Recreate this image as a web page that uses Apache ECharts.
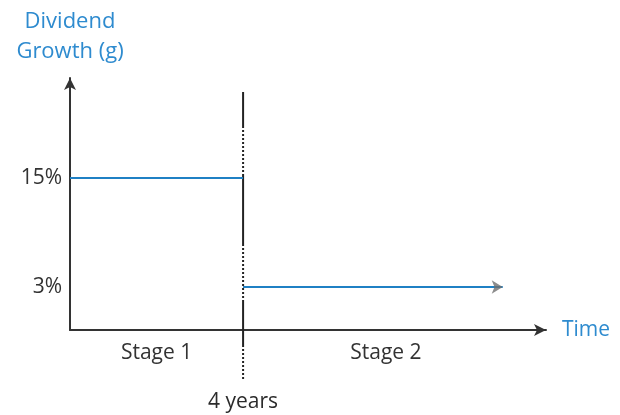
<!DOCTYPE html>
<html>
<head>
<meta charset="utf-8">
<script src="https://cdn.jsdelivr.net/npm/echarts@6/dist/echarts.min.js"></script>
<style>html,body{margin:0;padding:0;background:#fff}#c{width:620px;height:415px}</style>
</head>
<body>
<div id="c"></div>
<script>
// ---- data ----
const stageNames = ['Stage 1', 'Stage 2'];
const stageLabelAt = [2, 7.3];          // x (years) where each stage name sits
const stageStart = [0, 4];              // years
const stageEnd = [4, 10];               // years
const growthRates = [15, 3];            // %
const yTickValues = [3, 15];
const boundaryYears = 4;
const boundaryLabel = '4 years';
const yName = 'Dividend\nGrowth (g)';
const xName = 'Time';

// ---- style ----
const FONT = 'Open Sans';
const BLUE_TEXT = '#2e8bcf';
const BLUE_LINE = '#1f80c4';
const DARK = '#333';

// dash pattern for the boundary line (solid / dotted stretches, px from top)
function buildDash(segs) {
  const arr = []; let lastOn = null;
  function add(on, len) {
    if (lastOn === on) arr[arr.length - 1] += len; else { arr.push(len); lastOn = on; }
  }
  segs.forEach(([t, len]) => {
    if (t === 's') add(true, len);
    else { const n = Math.round(len / 4); for (let i = 0; i < n; i++) { add(false, 2); add(true, 2); } }
  });
  return arr;
}
const boundaryDash = buildDash([['s', 36], ['d', 47], ['s', 70], ['d', 55], ['s', 45], ['d', 40]]);

const stageSeries = growthRates.map((g, i) => ({
  type: 'line',
  data: [[stageStart[i], g], [stageEnd[i], g]],
  symbol: 'none',
  lineStyle: { color: BLUE_LINE, width: 2 },
  z: 3,
  silent: true
}));

const chart = echarts.init(document.getElementById('c'), null, { renderer: 'canvas' });
chart.setOption({
  animation: false,
  backgroundColor: '#fff',
  grid: { left: 70, right: 74, top: 78, bottom: 85, containLabel: false },
  xAxis: {
    type: 'value', min: 0, max: 11,
    name: xName, nameLocation: 'end', nameGap: 16,
    nameTextStyle: { color: BLUE_TEXT, fontFamily: FONT, fontSize: 21, verticalAlign: 'middle', padding: [2, 0, 0, 0] },
    axisLine: { show: true, onZero: false, symbol: ['none', 'arrow'], symbolSize: [9, 12],
      lineStyle: { color: DARK, width: 2 } },
    axisTick: { show: false },
    splitLine: { show: false },
    axisLabel: {
      customValues: stageLabelAt,
      formatter: v => stageNames[stageLabelAt.indexOf(v)] || '',
      color: DARK, fontFamily: FONT, fontSize: 21, margin: 13
    }
  },
  yAxis: {
    type: 'value', min: -1.73, max: 26,
    name: yName, nameLocation: 'end', nameGap: 11,
    nameTextStyle: { color: BLUE_TEXT, fontFamily: FONT, fontSize: 22, lineHeight: 30, align: 'center', verticalAlign: 'bottom' },
    axisLine: { show: true, onZero: false, symbol: ['none', 'arrow'], symbolSize: [9, 12],
      lineStyle: { color: DARK, width: 2 } },
    axisTick: { show: false },
    splitLine: { show: false },
    axisLabel: {
      customValues: yTickValues,
      formatter: v => v + '%',
      color: DARK, fontFamily: FONT, fontSize: 21, margin: 8
    }
  },
  series: [
    ...stageSeries,
    {
      type: 'line',
      clip: false,
      silent: true,
      symbol: 'none',
      data: [[boundaryYears, 24.45], [boundaryYears, -7.25]],
      lineStyle: { color: '#222', width: 2, type: boundaryDash },
      z: 2
    },
    {
      type: 'scatter',
      clip: false,
      silent: true,
      data: [[boundaryYears, -7.25]],
      symbol: 'circle',
      symbolSize: 1,
      itemStyle: { color: '#fff', opacity: 1 },
      label: { show: true, position: 'bottom', distance: 11, formatter: boundaryLabel,
        color: '#2b2b2b', opacity: 1, fontFamily: FONT, fontSize: 21 },
      z: 5
    },
    {
      type: 'scatter',
      silent: true,
      data: [[stageEnd[1], growthRates[1]]],
      symbol: 'arrow',
      symbolSize: [10, 11],
      symbolRotate: -90,
      symbolOffset: [0, 0],
      itemStyle: { color: '#6f6f6f' },
      z: 4
    }
  ]
});
</script>
</body>
</html>
